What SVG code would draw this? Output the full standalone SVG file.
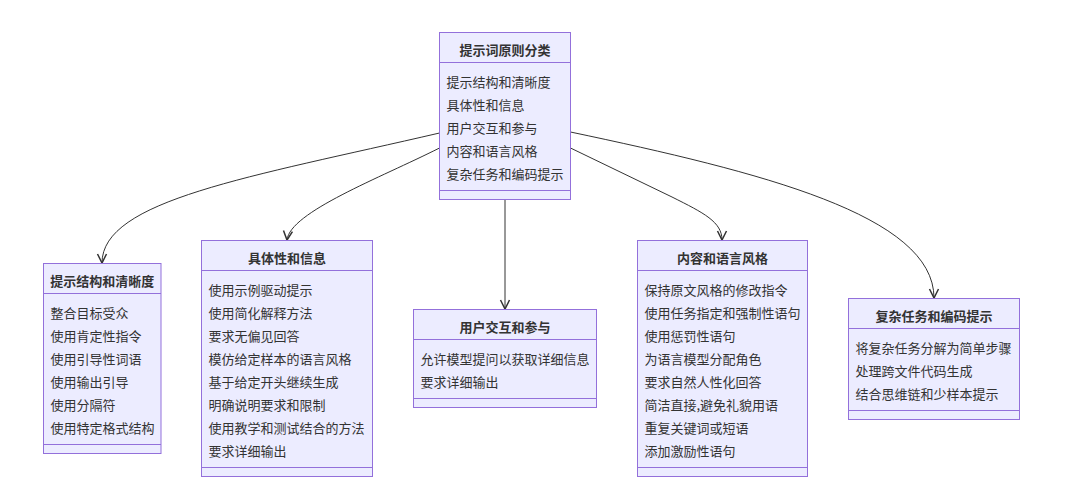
<svg xmlns="http://www.w3.org/2000/svg" width="1080" height="496" viewBox="0 0 1080 496">
<style>
.box{fill:#ECECFF;stroke:#9370DB;stroke-width:1}
.sep{stroke:#9370DB;stroke-width:1}
.t{font-family:"Noto Sans CJK SC","Noto Sans",sans-serif;font-size:13px;fill:#333;dominant-baseline:central}
.h{font-weight:bold;text-anchor:middle}
.edge{fill:none;stroke:#333;stroke-width:1}
</style>
<defs>
<marker id="arr" viewBox="0 0 12 12" markerWidth="12" markerHeight="12" refX="11" refY="6" orient="auto" markerUnits="userSpaceOnUse">
<path d="M2,1.5 L11,6 L2,10.5" fill="none" stroke="#333" stroke-width="1.5"/>
</marker>
</defs>
<rect width="1080" height="496" fill="#ffffff"/>
<g id="connectors">
<path class="edge" d="M439.5,133 C250,177 102,200 102,263" marker-end="url(#arr)"/>
<path class="edge" d="M439.5,148 C380,178 290,212 287,240" marker-end="url(#arr)"/>
<path class="edge" d="M505,199.5 L505,309" marker-end="url(#arr)"/>
<path class="edge" d="M570.5,148 L672,197 C704,213 722,222 722,240" marker-end="url(#arr)"/>
<path class="edge" d="M570.5,132 C760,172 934,215 934,298" marker-end="url(#arr)"/>
</g>
<g id="root">
<rect class="box" x="439.5" y="32.5" width="131" height="167"/>
<line class="sep" x1="439.5" y1="62.5" x2="570.5" y2="62.5"/>
<line class="sep" x1="439.5" y1="190.5" x2="570.5" y2="190.5"/>
<text class="t h" x="505" y="49.5">提示词原则分类</text>
<text class="t" x="446.5" y="81">提示结构和清晰度</text>
<text class="t" x="446.5" y="104">具体性和信息</text>
<text class="t" x="446.5" y="127">用户交互和参与</text>
<text class="t" x="446.5" y="150">内容和语言风格</text>
<text class="t" x="446.5" y="173">复杂任务和编码提示</text>
</g>
<g id="structure">
<rect class="box" x="43.5" y="263.5" width="117.5" height="190"/>
<line class="sep" x1="43.5" y1="293.5" x2="161" y2="293.5"/>
<line class="sep" x1="43.5" y1="444.5" x2="161" y2="444.5"/>
<text class="t h" x="102.2" y="280.5">提示结构和清晰度</text>
<text class="t" x="50.5" y="312">整合目标受众</text>
<text class="t" x="50.5" y="335">使用肯定性指令</text>
<text class="t" x="50.5" y="358">使用引导性词语</text>
<text class="t" x="50.5" y="381">使用输出引导</text>
<text class="t" x="50.5" y="404">使用分隔符</text>
<text class="t" x="50.5" y="427">使用特定格式结构</text>
</g>
<g id="specific">
<rect class="box" x="201.5" y="240.5" width="171" height="236"/>
<line class="sep" x1="201.5" y1="270.5" x2="372.5" y2="270.5"/>
<line class="sep" x1="201.5" y1="467.5" x2="372.5" y2="467.5"/>
<text class="t h" x="287" y="257.5">具体性和信息</text>
<text class="t" x="208.5" y="289.5">使用示例驱动提示</text>
<text class="t" x="208.5" y="312.5">使用简化解释方法</text>
<text class="t" x="208.5" y="335.5">要求无偏见回答</text>
<text class="t" x="208.5" y="358.5">模仿给定样本的语言风格</text>
<text class="t" x="208.5" y="381.5">基于给定开头继续生成</text>
<text class="t" x="208.5" y="404.5">明确说明要求和限制</text>
<text class="t" x="208.5" y="427.5">使用教学和测试结合的方法</text>
<text class="t" x="208.5" y="450.5">要求详细输出</text>
</g>
<g id="interaction">
<rect class="box" x="413.5" y="309.5" width="183" height="98"/>
<line class="sep" x1="413.5" y1="339.5" x2="596.5" y2="339.5"/>
<line class="sep" x1="413.5" y1="398.5" x2="596.5" y2="398.5"/>
<text class="t h" x="505" y="326.5">用户交互和参与</text>
<text class="t" x="420.5" y="358.5">允许模型提问以获取详细信息</text>
<text class="t" x="420.5" y="381.5">要求详细输出</text>
</g>
<g id="style">
<rect class="box" x="637.5" y="240.5" width="170" height="236"/>
<line class="sep" x1="637.5" y1="270.5" x2="807.5" y2="270.5"/>
<line class="sep" x1="637.5" y1="467.5" x2="807.5" y2="467.5"/>
<text class="t h" x="722.5" y="257.5">内容和语言风格</text>
<text class="t" x="644.5" y="289.5">保持原文风格的修改指令</text>
<text class="t" x="644.5" y="312.5">使用任务指定和强制性语句</text>
<text class="t" x="644.5" y="335.5">使用惩罚性语句</text>
<text class="t" x="644.5" y="358.5">为语言模型分配角色</text>
<text class="t" x="644.5" y="381.5">要求自然人性化回答</text>
<text class="t" x="644.5" y="404.5">简洁直接,避免礼貌用语</text>
<text class="t" x="644.5" y="427.5">重复关键词或短语</text>
<text class="t" x="644.5" y="450.5">添加激励性语句</text>
</g>
<g id="complex">
<rect class="box" x="848.5" y="298.5" width="171" height="121"/>
<line class="sep" x1="848.5" y1="328.5" x2="1019.5" y2="328.5"/>
<line class="sep" x1="848.5" y1="410.5" x2="1019.5" y2="410.5"/>
<text class="t h" x="934" y="315.5">复杂任务和编码提示</text>
<text class="t" x="855.5" y="347.5">将复杂任务分解为简单步骤</text>
<text class="t" x="855.5" y="370.5">处理跨文件代码生成</text>
<text class="t" x="855.5" y="393.5">结合思维链和少样本提示</text>
</g>
</svg>
